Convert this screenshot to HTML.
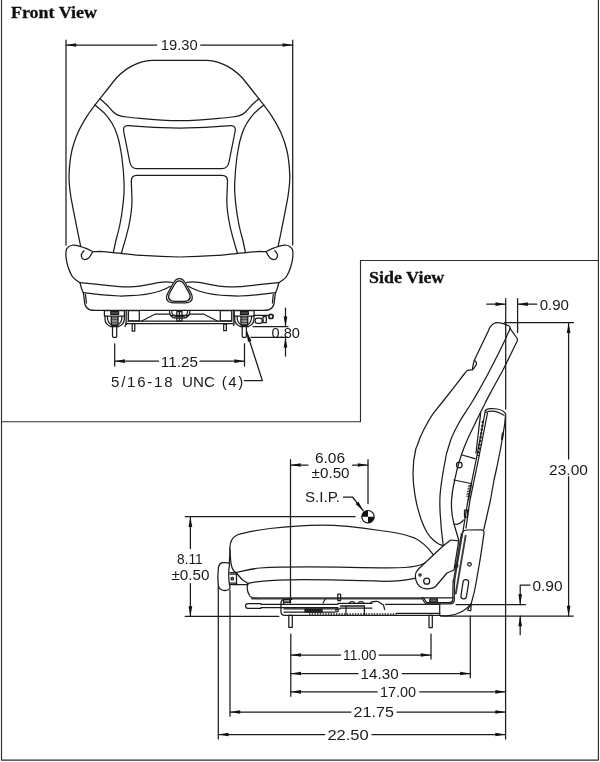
<!DOCTYPE html>
<html lang="en"><head><meta charset="utf-8"><title>Seat dimensions</title>
<style>
html,body{margin:0;padding:0;background:#fff;}
svg{display:block;}
</style></head>
<body>
<svg width="600" height="762" viewBox="0 0 600 762" style="filter:grayscale(1)">
<rect x="0" y="0" width="600" height="762" fill="#fff"/>
<g stroke="#2e2e2e" stroke-width="1.15" fill="none" stroke-linejoin="round">
<path d="M1.5 0 V760.1 H598.4 V0"/>
<path d="M1.5 421.7 H360.5 V260.5 H598.4"/>
</g>
<g stroke="#1c1c1c" stroke-width="1.25" fill="none" stroke-linecap="round" stroke-linejoin="round">
<path d="M258.80 98.70 L252.10 104.70 C249.80 107.00 247.80 109.70 245.50 112.00 C243.80 113.70 242.10 114.70 240.10 115.30 C237.80 116.20 234.80 116.70 232.10 117.00 C227.80 117.60 222.80 118.00 218.80 118.30 C205.80 119.50 191.80 120.50 179.40 120.70 C167.00 120.50 153.00 119.50 140.00 118.30 C136.00 118.00 131.00 117.60 126.70 117.00 C124.00 116.70 121.00 116.20 118.70 115.30 C116.70 114.70 115.00 113.70 113.30 112.00 C111.00 109.70 109.00 107.00 106.70 104.70 L100.00 98.70"/>
<path d="M278.10 246.30 L280.80 233.30 C282.30 226.00 284.30 216.00 286.10 206.70 C288.30 196.00 289.80 186.00 289.80 176.70 C289.50 166.00 288.50 157.00 286.80 150.00 C285.60 145.00 283.80 139.50 281.50 134.00 C279.30 129.00 276.30 123.50 272.10 116.70 C268.80 111.50 263.80 105.00 258.80 98.70 L245.30 81.50 C235.80 69.50 221.80 61.00 206.80 60.30 L179.40 60.30 L152.00 60.30 C137.00 61.00 123.00 69.50 113.50 81.50 L100.00 98.70 C95.00 105.00 90.00 111.50 86.70 116.70 C82.50 123.50 79.50 129.00 77.30 134.00 C75.00 139.50 73.20 145.00 72.00 150.00 C70.30 157.00 69.30 166.00 69.00 176.70 C69.00 186.00 70.50 196.00 72.70 206.70 C74.50 216.00 76.50 226.00 78.00 233.30 L80.70 246.30"/>
<path d="M237.50 253.50 L232.80 237.30 C231.30 232.00 229.80 226.00 228.80 220.00 C227.60 213.00 226.80 207.00 226.80 200.00 L227.50 181.00 Q227.50 175.30 221.80 175.30 L179.40 175.30 L137.00 175.30 Q131.30 175.30 131.30 181.00 L132.00 200.00 C132.00 207.00 131.20 213.00 130.00 220.00 C129.00 226.00 127.50 232.00 126.00 237.30 L121.30 253.50"/>
<path d="M278.80 282.70 C280.10 282.00 281.50 281.00 282.80 280.00 C284.30 279.00 285.80 277.70 286.80 276.00 C288.50 273.00 289.80 270.00 290.80 266.70 C291.70 263.70 292.40 260.50 292.80 257.30 C292.90 255.50 293.00 253.50 292.80 251.30 C292.70 249.80 292.00 248.30 290.50 247.00 C289.30 246.00 287.80 245.20 285.50 245.00 C283.30 245.00 281.30 245.50 278.80 246.30 C276.80 246.80 274.30 247.80 272.10 248.70 C270.80 249.20 268.80 250.30 266.10 251.70 C263.80 251.80 261.80 251.30 258.80 251.30 C255.80 251.50 250.80 252.20 245.50 252.70 C238.80 253.30 228.80 254.50 218.80 255.30 C208.80 256.00 198.80 256.80 179.40 257.00 C160.00 256.80 150.00 256.00 140.00 255.30 C130.00 254.50 120.00 253.30 113.30 252.70 C108.00 252.20 103.00 251.50 100.00 251.30 C97.00 251.30 95.00 251.80 92.70 251.70 C90.00 250.30 88.00 249.20 86.70 248.70 C84.50 247.80 82.00 246.80 80.00 246.30 C77.50 245.50 75.50 245.00 73.30 245.00 C71.00 245.20 69.50 246.00 68.30 247.00 C66.80 248.30 66.10 249.80 66.00 251.30 C65.80 253.50 65.90 255.50 66.00 257.30 C66.40 260.50 67.10 263.70 68.00 266.70 C69.00 270.00 70.30 273.00 72.00 276.00 C73.00 277.70 74.50 279.00 76.00 280.00 C77.30 281.00 78.70 282.00 80.00 282.70"/>
<path d="M95 105 C98 107.5 101 110 104 112.7 C107 116 110 120 112 123.3 C114.5 127.5 116 131 117.3 135.3 C119 140.5 120 145.5 120.7 150 C121.7 155 122.3 160 122.7 164.7 C123.3 170 123.6 173 123.7 176.7 C124.2 182 124.3 187 124 193.3 C123.7 198 123.3 202.5 122.7 206.7 C122 213 121 219 120 224 C118.8 230 117.5 235 116 240 L113.3 252.7"/>
<path d="M84 250.7 C82.5 252 81.5 253.3 81.3 254.7 C81.2 257.5 82.5 259.3 84.7 259.6 C86.3 259.7 87.6 259 88.7 258 C90.3 256.3 91.3 254.5 92.3 252.3"/>
<path d="M80 282.7 C87 283.5 94 284.2 100 284.7 C107 285.5 114 286.3 120 286.7 C124 287 127 287 130 286.8 C142 286.5 152 283.5 160 282.3 C165 281.6 169 281.6 172.5 282.5"/>
<path d="M83.3 292.7 C89 293.5 95 294.2 100 294.7 C107 295.4 114 295.8 120 296 C124 296 127 295.9 130 295.7 C142 295.5 152 293.5 160 291 C164 289.7 167.5 288 170.3 286.2"/>
<path d="M80 282.7 C80.5 285 81 286.5 81.3 288 L83.3 292.7 C83.8 296 84.3 300 84.8 304 C85.5 306.5 87.5 308.8 89.5 309.6 C91 310.2 92.5 310.4 94 310.4"/>
<path d="M85.5 294.5 L86.4 303"/>
<g transform="translate(358.8,0) scale(-1,1)">
<path d="M95 105 C98 107.5 101 110 104 112.7 C107 116 110 120 112 123.3 C114.5 127.5 116 131 117.3 135.3 C119 140.5 120 145.5 120.7 150 C121.7 155 122.3 160 122.7 164.7 C123.3 170 123.6 173 123.7 176.7 C124.2 182 124.3 187 124 193.3 C123.7 198 123.3 202.5 122.7 206.7 C122 213 121 219 120 224 C118.8 230 117.5 235 116 240 L113.3 252.7"/>
<path d="M84 250.7 C82.5 252 81.5 253.3 81.3 254.7 C81.2 257.5 82.5 259.3 84.7 259.6 C86.3 259.7 87.6 259 88.7 258 C90.3 256.3 91.3 254.5 92.3 252.3"/>
<path d="M80 282.7 C87 283.5 94 284.2 100 284.7 C107 285.5 114 286.3 120 286.7 C124 287 127 287 130 286.8 C142 286.5 152 283.5 160 282.3 C165 281.6 169 281.6 172.5 282.5"/>
<path d="M83.3 292.7 C89 293.5 95 294.2 100 294.7 C107 295.4 114 295.8 120 296 C124 296 127 295.9 130 295.7 C142 295.5 152 293.5 160 291 C164 289.7 167.5 288 170.3 286.2"/>
<path d="M80 282.7 C80.5 285 81 286.5 81.3 288 L83.3 292.7 C83.8 296 84.3 300 84.8 304 C85.5 306.5 87.5 308.8 89.5 309.6 C91 310.2 92.5 310.4 94 310.4"/>
<path d="M85.5 294.5 L86.4 303"/>
</g>
<path d="M128 125.6 Q179.4 130.5 230.8 125.6 Q236 125.5 235.2 131 L229 162 Q227.8 168.6 222 168.6 L136.8 168.6 Q131 168.6 129.8 162 L123.6 131 Q122.8 125.5 128 125.6 Z"/>
<path d="M179.4 278.6 C182 278.6 183.8 280.2 185 282.5 L189.6 290.5 C190.8 292.5 192 294.5 192.2 296.5 C192.5 299 191.5 301 189.5 302 C188 302.7 186 302.8 184 302.8 L174.8 302.8 C172.8 302.8 170.8 302.7 169.3 302 C167.3 301 166.3 299 166.6 296.5 C166.8 294.5 168 292.5 169.2 290.5 L173.8 282.5 C175 280.2 176.8 278.6 179.4 278.6 Z"/>
<path d="M179.4 278.6 C182 278.6 183.8 280.2 185 282.5 L189.6 290.5 C190.8 292.5 192 294.5 192.2 296.5 C192.5 299 191.5 301 189.5 302 C188 302.7 186 302.8 184 302.8 L174.8 302.8 C172.8 302.8 170.8 302.7 169.3 302 C167.3 301 166.3 299 166.6 296.5 C166.8 294.5 168 292.5 169.2 290.5 L173.8 282.5 C175 280.2 176.8 278.6 179.4 278.6 Z" transform="translate(179.4 293.2) scale(0.84) translate(-179.4 -293.2)" vector-effect="non-scaling-stroke"/>
<line x1="93" y1="310.4" x2="265.8" y2="310.4"/>
<rect x="104.39999999999999" y="310.6" width="20.00" height="5.40"/>
<rect x="110.8" y="311.6" width="7.80" height="2.80" fill="#555"/>
<path d="M105.0 316 L105.0 319 C105.0 322 107.0 325 110.5 326.5 L118.8 326.5 C122.3 325 124.3 322 124.3 319 L124.3 316"/>
<path d="M107.5 316.5 C107.0 320 109.0 324 112.0 325.3 L117.3 325.3 C120.3 324 122.3 320 121.8 316.5"/>
<line x1="111.3" y1="317.8" x2="118.0" y2="317.8"/>
<line x1="111.3" y1="319.9" x2="118.0" y2="319.9"/>
<line x1="111.3" y1="322" x2="118.0" y2="322"/>
<line x1="111.3" y1="324" x2="118.0" y2="324"/>
<line x1="111.3" y1="316.5" x2="111.3" y2="325.3"/>
<line x1="118.0" y1="316.5" x2="118.0" y2="325.3"/>
<path d="M112.5 326.5 L112.5 336.3 Q112.5 337.4 113.6 337.4 L115.6 337.4 Q116.69999999999999 337.4 116.69999999999999 336.3 L116.69999999999999 326.5"/>
<line x1="126.3" y1="310.5" x2="126.3" y2="324" stroke-width="1.8" stroke="#444"/>
<path d="M126 324 L125 326.5"/>
<rect x="128.4" y="310.5" width="10.90" height="10.40"/>
<path d="M141.3 321.2 L155.3 314 L169.3 314"/>
<line x1="128.3" y1="321.2" x2="231.5" y2="321.2"/>
<line x1="126" y1="323.7" x2="234" y2="323.7"/>
<rect x="132.2" y="323.7" width="2.60" height="7.30"/>
<path d="M169.5 311 C169 315 172 318 176 318 L183.3 318 C187.3 318 190.3 315 189.8 311"/>
<path d="M171.8 311.3 C171.5 314 173.5 316.5 176.5 316.5 L182.8 316.5 C185.8 316.5 187.8 314 187.5 311.3"/>
<line x1="170.5" y1="315.3" x2="188.8" y2="315.3"/>
<rect x="176.8" y="311.5" width="5.20" height="9.70"/>
<line x1="179.4" y1="311.5" x2="179.4" y2="321"/>
<path d="M190 314 L203.3 314 L218 321.2"/>
<rect x="220.3" y="310.5" width="11.40" height="10.30"/>
<line x1="233.7" y1="310.5" x2="233.7" y2="325.3" stroke-width="1.8" stroke="#444"/>
<rect x="223.7" y="324" width="2.70" height="6.70"/>
<rect x="234.10000000000002" y="310.6" width="20.00" height="5.40"/>
<rect x="240.5" y="311.6" width="7.80" height="2.80" fill="#555"/>
<path d="M234.70000000000002 316 L234.70000000000002 319 C234.70000000000002 322 236.70000000000002 325 240.20000000000002 326.5 L248.5 326.5 C252.0 325 254.0 322 254.0 319 L254.0 316"/>
<path d="M237.20000000000002 316.5 C236.70000000000002 320 238.70000000000002 324 241.70000000000002 325.3 L247.0 325.3 C250.0 324 252.0 320 251.5 316.5"/>
<line x1="241.0" y1="317.8" x2="247.70000000000002" y2="317.8"/>
<line x1="241.0" y1="319.9" x2="247.70000000000002" y2="319.9"/>
<line x1="241.0" y1="322" x2="247.70000000000002" y2="322"/>
<line x1="241.0" y1="324" x2="247.70000000000002" y2="324"/>
<line x1="241.0" y1="316.5" x2="241.0" y2="325.3"/>
<line x1="247.70000000000002" y1="316.5" x2="247.70000000000002" y2="325.3"/>
<path d="M242.20000000000002 326.5 L242.20000000000002 336.3 Q242.20000000000002 337.4 243.3 337.4 L245.3 337.4 Q246.4 337.4 246.4 336.3 L246.4 326.5"/>
<line x1="253.7" y1="315.3" x2="268.3" y2="315.3"/>
<rect x="255" y="318" width="7.40" height="5.30" rx="2.6"/>
<rect x="263" y="316.7" width="3.30" height="6.00"/>
<path d="M262.4 320.6 L263 320.6"/>
<circle cx="271" cy="316.4" r="2.1" stroke-width="1.7"/>
<line x1="66" y1="40" x2="66" y2="245"/>
<line x1="292.7" y1="40" x2="292.7" y2="245"/>
<line x1="66" y1="45" x2="156.7" y2="45"/>
<line x1="200.7" y1="45" x2="292.7" y2="45"/>
<line x1="114.7" y1="343.8" x2="114.7" y2="366"/>
<line x1="244.5" y1="343.8" x2="244.5" y2="366"/>
<line x1="114.7" y1="361.2" x2="158.5" y2="361.2"/>
<line x1="200" y1="361.2" x2="244.5" y2="361.2"/>
<line x1="253" y1="326.7" x2="288" y2="326.7"/>
<line x1="251" y1="337.3" x2="288" y2="337.3"/>
<line x1="285.5" y1="308" x2="285.5" y2="326.6"/>
<line x1="285.5" y1="337.4" x2="285.5" y2="356"/>
<path d="M244.4 380.5 L262.3 380.5 L246.6 331.5"/>
<path d="M510.1 329 C510.3 327 509.6 326.2 508.7 325.8 C507 325 506.5 324.8 505.8 324.6 C503.5 323.7 502.5 323.4 501.7 323.2 C500 322.7 498.8 322.6 497.6 322.6 C496 322.6 494.6 323 493.5 323.8 C492 324.8 491 326 490 327.3 C489.3 328.5 488.8 329.8 488.3 331 L477.3 354 L474.3 360.3 C473.5 363 473 365.5 472.6 367.5 L472.5 369.7 C471 370 469.5 370.1 467.7 370.3 C466.5 371 465.7 372 465 373 L456.3 384.3 L444 400 C440 405 436.5 409.3 433.3 413.3 C430 418 426.5 424.5 424 429.3 C421 435 419 440 417.3 445.3 C416.5 447.5 416.2 448 416 448 C414 456 413 465 413 473.3 C413 480 413.7 487 414.7 493.3 C415.5 498 416.3 502.5 417.3 506.7 C418.5 511 420 516 421.3 520 C423 524.5 424.7 528.5 426.7 532 C428.7 535.3 431 538 433.3 540 C435.5 542 438 543.8 440 544.7 L443.3 545.6"/>
<path d="M474.3 360.3 C475.5 361 476.2 361.7 476.4 362.5 C476.6 363.3 476.5 364 476.2 364.6 C475.5 366 474.5 367.3 473.7 368.3 L472.6 369.7"/>
<path d="M510.1 329 L507.5 334.3 L505 340 L497.7 355 L490 370 C485 380 479 390 473.3 400 C468 409 464 414 460 421 C456 428 453 434 450.7 440 C447 450 445 459 444 467 C442 478 440.5 488 440 496 C439.6 505 440 513 440.7 520 C441 527 442 536 443.3 545.5"/>
<path d="M510 328.3 L516.9 338 C517.7 339.2 517.6 340.3 517 341.5 L512.8 350 L503 370 L492 390 C489 395.5 487 399 485 403.5 C482 409.5 480 413 478.7 416 L469 436 C465.5 443.5 463 450 461 456 C458 465 456 473 454.7 480 C453 487 451.8 494 451.5 501 C451.2 509 452 517 454 524 L458.7 540"/>
<path d="M454 524 C456 524.5 459 524 460.7 522.7 C462 521.8 463 520.8 463.3 520"/>
<path d="M485.3 411 C486 408.5 492 408 497 409 C501 409.8 505 411.5 505.8 414.5"/>
<path d="M486 412.3 C490 410.5 497 410.8 504 415.2"/>
<path d="M485.3 411 L476.5 458 L468 500 L463 531"/>
<path d="M487.5 413 L478.7 458 L470 500 L466 528"/>
<path d="M505.6 415 C505 423 504 429 503.5 431.5 L500.9 447 L496.7 468 L494 480 L490.5 500 L483.8 529.5"/>
<path d="M502.8 433.5 L502 439" stroke-width="2"/>
<path d="M480.7 412.7 L476 453"/>
<path d="M483 421 L478 456" stroke-width="2.2" stroke-dasharray="2.2 1.6" stroke-linecap="butt"/>
<path d="M462 455 L475 458.7"/>
<path d="M454 480 L471 483.5"/>
<circle cx="459.3" cy="465" r="2.8"/>
<path d="M469.8 485 L467.6 497" stroke-width="3" stroke-dasharray="0.8 0.8" stroke-linecap="butt"/>
<path d="M471.5 484 L468.5 500"/>
<rect x="464.5" y="510" width="3.00" height="7.00"/>
<path d="M462.8 532 C463.3 530.5 465 530.1 467 530 L480.5 529.8 C483.3 529.8 484.3 531 484 533.3 C482 548 479.5 564 476.6 580 C475.3 588 473.5 596 471.3 603.3 L470.8 610.8 L467.5 610 L471.2 604"/>
<path d="M440.5 615.5 L446 615.8 C452 615.8 458 614 463.3 610.8 C466.5 608.8 469.3 606 471.3 603.3"/>
<path d="M421.7 597.9 L425 603 C425.5 603.8 426 603.8 427 603.8 L450.5 603.8 C453 603.8 454 602.3 454.3 600.3 C454.3 593 454.3 586 454.7 580"/>
<path d="M462.8 532 L461.9 536"/>
<path d="M423.6 597.9 L426.3 602 C426.8 602.5 427.3 602.5 428 602.5 L449.5 602.5 C451.8 602.5 452.6 601.3 452.8 599.8 C452.8 593 452.9 586 453.3 580"/>
<path d="M461.9 534 L454 581" stroke-width="2.4" stroke="#333"/>
<path d="M465.6 535.8 L455.8 593.5" stroke-width="1.9" stroke="#3c3c3c"/>
<circle cx="469.5" cy="564.3" r="1.8"/>
<rect x="462" y="579.5" width="5.6" height="19.4" rx="2.8" transform="rotate(8.9 464.8 589.2)"/>
<path d="M443.3 545.8 L450.7 540 L458.7 540.8 L454 570 L447 573 L436 586 C433 589 427 589.5 422.5 588 C418 586 415.5 581 415.3 576 C415.3 573 416.5 571 418.5 569 Z"/>
<circle cx="426.7" cy="581.2" r="3"/>
<circle cx="420" cy="575" r="1.1"/>
<circle cx="456.5" cy="565.8" r="1.4"/>
<path d="M229.8 548 C230 542 232 537.5 237 535 C245 532 258 530 270 528.5 C285 526.8 305 525.3 322 525.2 C340 525.2 360 527.5 380 530.5 C395 532.3 407 534.8 415 538.2 C422 541.5 428 547.5 433.3 554.7"/>
<path d="M229.8 548 L230.3 556 C230.6 561 231 565 232.3 568.3 C233.2 570.7 234.5 572.2 236.5 572.5 C242 571.5 250 569 260 568 C285 566.5 320 566.8 350 567.3 C375 567.8 395 568 405 567.5 C413 567 420 565.5 425 563"/>
<path d="M248 583.3 C255 581.7 270 580.2 290 579.8 C320 579.5 360 580.5 385 581.3 C400 581.3 408 579.8 415 578.3"/>
<path d="M248 583.5 C246.5 587 247 591 249.5 595.5 C251 598 254 598.5 260 598.5"/>
<path d="M338 604.3 L261 604.3 L261 603.5 L248 603.5 C244.7 603.5 244.7 608.3 248 608.3 L261 608.3 L261 607.6 L338 607.6"/>
<path d="M230 572.5 L236.5 572.5 L236.5 584.5 L230 584.5"/>
<circle cx="232.3" cy="578.7" r="1.2" stroke-width="1.4"/>
<path d="M236 572.5 L242 579.5 L248 583.5"/>
<line x1="236" y1="584.5" x2="248" y2="584.5"/>
<path d="M229.6 563.3 C228 562.6 225 562.5 222.5 562.7 C220 563.2 219 565 218.5 567 C217.7 573 217.6 580 218.3 585.5 C218.8 588 220 589.3 222 590 C224 590.6 226.5 590.7 228.5 589.8 C229.5 589.2 230 588.3 230 587.3 C228.3 580 228.3 572 229.6 563.3 Z"/>
<path d="M230 550 C229.8 556 229.4 560 229.3 563"/>
<line x1="230" y1="574" x2="236.5" y2="574"/>
<line x1="230" y1="583.2" x2="236.5" y2="583.2"/>
<line x1="252" y1="598.3" x2="421.5" y2="598.3" stroke-width="2.2" stroke="#3a3a3a"/>
<line x1="421.5" y1="597.9" x2="453.3" y2="597.9"/>
<rect x="429.8" y="598.8" width="7.60" height="3.20" fill="#666"/>
<path d="M286 601 C284 601 283.5 602.3 283.6 604"/>
<line x1="338" y1="603.4" x2="372" y2="603.4"/>
<path d="M349 603.3 C350 601 354 601 355 603.3 M358 603.3 C359 601 363 601 364 603.3"/>
<path d="M370 603.3 C371 601.3 374 601.3 378 601.5 L383.5 605 L384.7 609.7"/>
<line x1="385.6" y1="604.3" x2="439.7" y2="604.3"/>
<line x1="439.7" y1="604.3" x2="439.7" y2="615.3"/>
<path d="M292 599.3 L285 599.3 C281.8 599.3 281 601 281 603 L281 612 C281 614.5 282.5 615.3 285 615.3 L439.7 615.3"/>
<line x1="284" y1="608.8" x2="340" y2="608.8"/>
<line x1="284" y1="612" x2="335" y2="612"/>
<rect x="305" y="609" width="17.00" height="3.00" fill="#222"/>
<line x1="309" y1="614" x2="396.6" y2="614" stroke-width="1.6" stroke-dasharray="1.4 1.3" stroke-linecap="butt"/>
<line x1="396.6" y1="613.4" x2="439.7" y2="613.4"/>
<line x1="346" y1="606" x2="346" y2="614.3"/>
<line x1="364.4" y1="606" x2="364.4" y2="614.3"/>
<line x1="340.6" y1="606" x2="364.4" y2="606" stroke-width="1.6"/>
<line x1="340" y1="608" x2="372" y2="608"/>
<rect x="337.8" y="594" width="2.80" height="6.60"/>
<path d="M323 603 L325.5 598.8"/>
<circle cx="337" cy="610.5" r="1.3"/>
<rect x="288.8" y="615.3" width="3.50" height="12.00"/>
<rect x="283.5" y="599.3" width="6.50" height="3.00" fill="#999"/>
<rect x="429" y="615.3" width="3.30" height="12.20"/>
<line x1="505.7" y1="298.7" x2="505.7" y2="409"/>
<line x1="517.6" y1="298.7" x2="517.6" y2="332.5"/>
<line x1="486.8" y1="304.2" x2="505.7" y2="304.2"/>
<line x1="517.6" y1="304.2" x2="536.7" y2="304.2"/>
<line x1="504.6" y1="322.7" x2="573.5" y2="322.7"/>
<line x1="568.6" y1="322.9" x2="568.6" y2="459"/>
<line x1="568.6" y1="476.7" x2="568.6" y2="616"/>
<line x1="440.6" y1="616" x2="573.3" y2="616"/>
<line x1="456" y1="604.5" x2="525.5" y2="604.5"/>
<path d="M530 585.2 L520.2 585.2 L520.2 604.5"/>
<line x1="520.2" y1="616" x2="520.2" y2="634.7"/>
<line x1="290.5" y1="459.7" x2="290.5" y2="603"/>
<line x1="368" y1="459.7" x2="368" y2="503.5"/>
<line x1="290.5" y1="465" x2="308" y2="465"/>
<line x1="352.5" y1="465" x2="368" y2="465"/>
<path d="M343.3 497 L352.5 497 L363.3 510.8"/>
<line x1="185.3" y1="516.7" x2="355" y2="516.7"/>
<line x1="185.3" y1="616.4" x2="278.7" y2="616.4"/>
<line x1="190.4" y1="516.7" x2="190.4" y2="548.6"/>
<line x1="190.4" y1="583.6" x2="190.4" y2="616.4"/>
<line x1="218.3" y1="586" x2="218.3" y2="739"/>
<line x1="230" y1="590" x2="230" y2="716.3"/>
<line x1="290.8" y1="634" x2="290.8" y2="696.3"/>
<line x1="431" y1="634" x2="431" y2="659"/>
<line x1="470.3" y1="616" x2="470.3" y2="677.8"/>
<line x1="505.6" y1="416" x2="505.6" y2="739"/>
<line x1="290.8" y1="655" x2="340.5" y2="655"/>
<line x1="379" y1="655" x2="431" y2="655"/>
<line x1="290.8" y1="673.5" x2="358" y2="673.5"/>
<line x1="402.2" y1="673.5" x2="470.3" y2="673.5"/>
<line x1="290.8" y1="691.8" x2="377.2" y2="691.8"/>
<line x1="419.7" y1="691.8" x2="505.6" y2="691.8"/>
<line x1="230" y1="712" x2="351" y2="712"/>
<line x1="397" y1="712" x2="505.6" y2="712"/>
<line x1="218.3" y1="734.5" x2="324.7" y2="734.5"/>
<line x1="372" y1="734.5" x2="505.6" y2="734.5"/>
</g>
<circle cx="368" cy="516.7" r="6.2" fill="#fff" stroke="#111" stroke-width="1.2"/>
<path d="M368 516.7 L368 510.5 A6.2 6.2 0 0 0 361.8 516.7 Z M368 516.7 L368 522.9 A6.2 6.2 0 0 0 374.2 516.7 Z" fill="#111"/>
<polygon points="66.00,45.00 76.20,43.15 76.20,46.85" fill="#111" stroke="none"/>
<polygon points="292.70,45.00 282.50,46.85 282.50,43.15" fill="#111" stroke="none"/>
<polygon points="114.70,361.20 124.90,359.35 124.90,363.05" fill="#111" stroke="none"/>
<polygon points="244.50,361.20 234.30,363.05 234.30,359.35" fill="#111" stroke="none"/>
<polygon points="285.50,326.60 283.65,316.40 287.35,316.40" fill="#111" stroke="none"/>
<polygon points="285.50,337.40 287.35,347.60 283.65,347.60" fill="#111" stroke="none"/>
<polygon points="246.60,331.50 251.47,340.65 247.95,341.78" fill="#111" stroke="none"/>
<polygon points="505.70,304.20 495.50,306.05 495.50,302.35" fill="#111" stroke="none"/>
<polygon points="517.60,304.20 527.80,302.35 527.80,306.05" fill="#111" stroke="none"/>
<polygon points="568.60,322.90 570.45,333.10 566.75,333.10" fill="#111" stroke="none"/>
<polygon points="568.60,616.00 566.75,605.80 570.45,605.80" fill="#111" stroke="none"/>
<polygon points="520.20,604.50 518.35,594.30 522.05,594.30" fill="#111" stroke="none"/>
<polygon points="520.20,616.00 522.05,626.20 518.35,626.20" fill="#111" stroke="none"/>
<polygon points="290.50,465.00 300.70,463.15 300.70,466.85" fill="#111" stroke="none"/>
<polygon points="368.00,465.00 357.80,466.85 357.80,463.15" fill="#111" stroke="none"/>
<polygon points="363.30,510.80 355.56,503.91 358.47,501.63" fill="#111" stroke="none"/>
<polygon points="190.40,516.70 192.25,526.90 188.55,526.90" fill="#111" stroke="none"/>
<polygon points="190.40,616.40 188.55,606.20 192.25,606.20" fill="#111" stroke="none"/>
<polygon points="290.80,655.00 301.00,653.15 301.00,656.85" fill="#111" stroke="none"/>
<polygon points="431.00,655.00 420.80,656.85 420.80,653.15" fill="#111" stroke="none"/>
<polygon points="290.80,673.50 301.00,671.65 301.00,675.35" fill="#111" stroke="none"/>
<polygon points="470.30,673.50 460.10,675.35 460.10,671.65" fill="#111" stroke="none"/>
<polygon points="290.80,691.80 301.00,689.95 301.00,693.65" fill="#111" stroke="none"/>
<polygon points="505.60,691.80 495.40,693.65 495.40,689.95" fill="#111" stroke="none"/>
<polygon points="230.00,712.00 240.20,710.15 240.20,713.85" fill="#111" stroke="none"/>
<polygon points="505.60,712.00 495.40,713.85 495.40,710.15" fill="#111" stroke="none"/>
<polygon points="218.30,734.50 228.50,732.65 228.50,736.35" fill="#111" stroke="none"/>
<polygon points="505.60,734.50 495.40,736.35 495.40,732.65" fill="#111" stroke="none"/>
<g fill="#1a1a1a" font-family="'Liberation Sans', Arial, sans-serif">
<text x="160.8" y="50.4" textLength="36.8" lengthAdjust="spacingAndGlyphs" font-size="15">19.30</text>
<text x="160.8" y="366.7" textLength="37.1" lengthAdjust="spacingAndGlyphs" font-size="15">11.25</text>
<text y="386.8" font-size="15"><tspan x="111.1" textLength="61.4" lengthAdjust="spacing">5/16-18</tspan> <tspan x="182.1" textLength="32.8" lengthAdjust="spacingAndGlyphs">UNC</tspan> <tspan x="221.7" textLength="21.6" lengthAdjust="spacing">(4)</tspan></text>
<text x="271.5" y="338.2" textLength="28.4" lengthAdjust="spacingAndGlyphs" font-size="15">0.80</text>
<text x="539.7" y="309.8" textLength="29.3" lengthAdjust="spacingAndGlyphs" font-size="15">0.90</text>
<text x="549.1" y="474.9" textLength="38.8" lengthAdjust="spacingAndGlyphs" font-size="15">23.00</text>
<text x="532.4" y="591.1" textLength="30.2" lengthAdjust="spacingAndGlyphs" font-size="15">0.90</text>
<text x="314.9" y="462.8" textLength="30.2" lengthAdjust="spacingAndGlyphs" font-size="15">6.06</text>
<text x="311.6" y="478.4" textLength="38.0" lengthAdjust="spacingAndGlyphs" font-size="15">±0.50</text>
<text x="304.9" y="502.4" textLength="35.2" lengthAdjust="spacingAndGlyphs" font-size="15">S.I.P.</text>
<text x="177.1" y="564.4" textLength="25.6" lengthAdjust="spacingAndGlyphs" font-size="15">8.11</text>
<text x="171.4" y="579.9" textLength="38.1" lengthAdjust="spacingAndGlyphs" font-size="15">±0.50</text>
<text x="343.1" y="660.4" textLength="33.3" lengthAdjust="spacingAndGlyphs" font-size="15">11.00</text>
<text x="360.6" y="678.9" textLength="38.0" lengthAdjust="spacingAndGlyphs" font-size="15">14.30</text>
<text x="379.9" y="697.2" textLength="36.2" lengthAdjust="spacingAndGlyphs" font-size="15">17.00</text>
<text x="353.6" y="717.4" textLength="40.3" lengthAdjust="spacingAndGlyphs" font-size="15">21.75</text>
<text x="327.4" y="739.9" textLength="41.3" lengthAdjust="spacingAndGlyphs" font-size="15">22.50</text>
</g>
<g fill="#111" stroke="#111" stroke-width="0.3" font-family="'Liberation Serif', 'Times New Roman', serif" font-weight="bold" font-size="17.5">
<text x="11" y="18.2" textLength="86" lengthAdjust="spacingAndGlyphs">Front View</text>
<text x="369.1" y="282.9" textLength="75.2" lengthAdjust="spacingAndGlyphs">Side View</text>
</g>
</svg>
</body></html>
